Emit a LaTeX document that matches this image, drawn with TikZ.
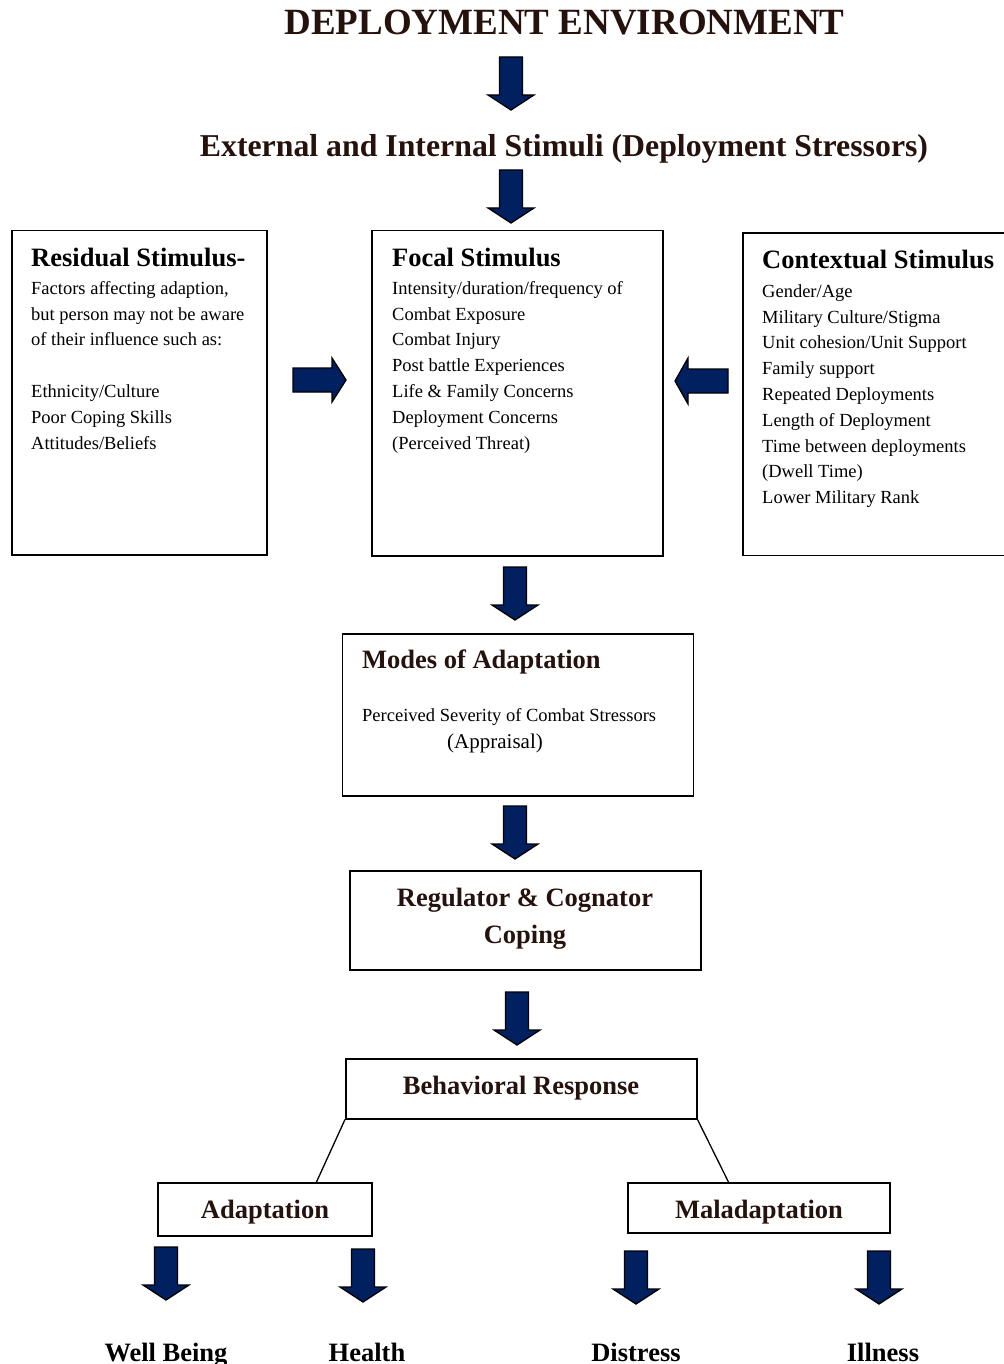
\documentclass[tikz,border=0pt]{standalone}
\usepackage{fontspec}
\setmainfont{Liberation Serif}
\usetikzlibrary{calc}
\definecolor{navy}{RGB}{0,32,96}
\definecolor{hbrown}{RGB}{38,18,12}
\newcommand\bdyf{\fontsize{18.5}{25.8}\selectfont}
\newcommand\hdf{\fontsize{26.5}{37}\selectfont\bfseries}
\tikzset{
  box/.style={draw=black, line width=1.5pt, inner sep=0pt, anchor=north west},
  arrowfill/.style={draw=black, line width=1.3pt, fill=navy, line join=miter},
  txt/.style={inner sep=0pt, anchor=base west},
  bodytxt/.style={inner sep=0pt, anchor=north west, align=left, font=\bdyf},
  darr/.pic={\draw[arrowfill] (-11.5,0) -- (11.5,0) -- (11.5,38) -- (23,38) -- (0,53) -- (-23,38) -- (-11.5,38) -- cycle;},
  rarr/.pic={\draw[arrowfill] (0,-12) -- (39,-12) -- (39,-22) -- (53,0) -- (39,22) -- (39,12) -- (0,12) -- cycle;},
  larr/.pic={\draw[arrowfill] (0,-12) -- (-40,-12) -- (-40,-23) -- (-53,0) -- (-40,23) -- (-40,12) -- (0,12) -- cycle;}
}
\begin{document}
\begin{tikzpicture}[x=1pt,y=-1pt]
\useasboundingbox (0,0) rectangle (1003,1364);
% titles
\node[inner sep=0pt, anchor=base, text=hbrown, font=\fontsize{37}{44}\selectfont\bfseries] (title) at (564.5,35) {DEPLOYMENT ENVIRONMENT};
\node[inner sep=0pt, anchor=base, text=hbrown, font=\fontsize{31.8}{38}\selectfont\bfseries] (sub) at (564,157) {External and Internal Stimuli (Deployment Stressors)};
\pic at (511,57) {darr};
\pic at (511,170) {darr};
% three stimulus boxes
\node[box, minimum width=255pt, minimum height=324pt] (res) at (11,230) {};
\node[box, minimum width=291pt, minimum height=325pt] (foc) at (371,230) {};
\node[box, minimum width=270pt, minimum height=322pt] (con) at (742,232.5) {};
\node[txt, font=\hdf] (resh) at (31,266) {Residual Stimulus-};
\node[bodytxt] (resb) at (31,276) {\strut Factors affecting adaption,\\but person may not be aware\\of their influence such as:\\ \strut\\Ethnicity/Culture\\Poor Coping Skills\\Attitudes/Beliefs};
\node[txt, font=\hdf] (foch) at (392,266) {Focal Stimulus};
\node[bodytxt] (focb) at (392,276) {\strut Intensity/duration/frequency of\\Combat Exposure\\Combat Injury\\Post battle Experiences\\Life \& Family Concerns\\Deployment Concerns\\(Perceived Threat)};
\node[txt, font=\hdf] (conh) at (762,268) {Contextual Stimulus};
\node[bodytxt] (conb) at (762,279) {\strut Gender/Age\\Military Culture/Stigma\\Unit cohesion/Unit Support\\Family support\\Repeated Deployments\\Length of Deployment\\Time between deployments\\(Dwell Time)\\Lower Military Rank};
\pic at (293,380) {rarr};
\pic at (728,381) {larr};
% modes of adaptation
\pic at (515,567) {darr};
\node[box, minimum width=351pt, minimum height=162pt] (modes) at (341.5,633) {};
\node[txt, font=\hdf, text=hbrown] (modesh) at (362,668) {Modes of Adaptation};
\node[txt, font=\bdyf] (modesa) at (362,721) {Perceived Severity of Combat Stressors};
\node[txt, font=\fontsize{21}{25}\selectfont] (modesb) at (447,748) {(Appraisal)};
% regulator
\pic at (515,806) {darr};
\node[box, minimum width=351pt, minimum height=99pt] (reg) at (349,870) {};
\node[inner sep=0pt, anchor=base, font=\hdf, text=hbrown] (regt1) at (525,906) {Regulator \& Cognator};
\node[inner sep=0pt, anchor=base, font=\hdf, text=hbrown] (regt2) at (525,943) {Coping};
% behavioural response
\pic at (517,992) {darr};
\node[box, minimum width=351pt, minimum height=60pt] (beh) at (345,1058) {};
\node[inner sep=0pt, anchor=base, font=\hdf, text=hbrown] (beht) at (521,1094) {Behavioral Response};
\node[box, minimum width=214pt, minimum height=53pt] (ad) at (157,1182) {};
\node[box, minimum width=262pt, minimum height=50pt] (mal) at (627,1182) {};
\node[inner sep=0pt, anchor=base, font=\hdf, text=hbrown] (adt) at (265,1218) {Adaptation};
\node[inner sep=0pt, anchor=base, font=\hdf, text=hbrown] (malt) at (759,1218) {Maladaptation};
\draw[line width=1.3pt] (beh.south west) -- ($(ad.north west)!0.74!(ad.north east)$);
\draw[line width=1.3pt] (beh.south east) -- ($(mal.north west)!0.385!(mal.north east)$);
% outcomes
\pic at (166,1247) {darr};
\pic at (363,1249) {darr};
\pic at (636,1251) {darr};
\pic at (879,1251) {darr};
\node[inner sep=0pt, anchor=base, font=\hdf] (wb) at (166,1361) {Well Being};
\node[inner sep=0pt, anchor=base, font=\hdf] (he) at (367,1361) {Health};
\node[inner sep=0pt, anchor=base, font=\hdf] (di) at (636,1361) {Distress};
\node[inner sep=0pt, anchor=base, font=\hdf] (il) at (883,1361) {Illness};
\end{tikzpicture}
\end{document}
